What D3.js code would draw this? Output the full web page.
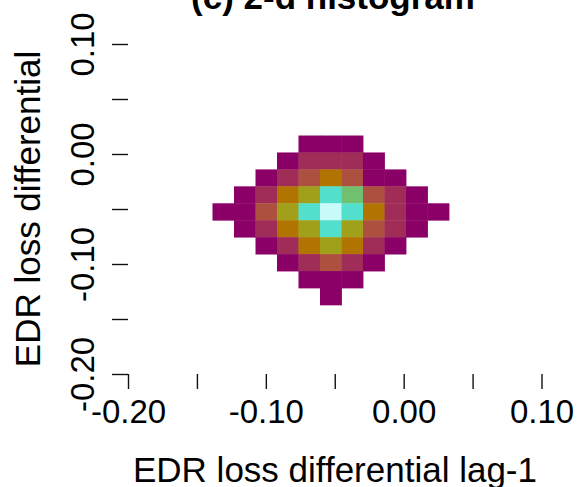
<!DOCTYPE html>
<html>
<head>
<meta charset="utf-8">
<script src="https://cdn.jsdelivr.net/npm/d3@7"></script>
<style>
  html, body { margin: 0; padding: 0; background: #fff; }
  svg { display: block; font-family: "Liberation Sans", Arial, sans-serif; }
</style>
</head>
<body>
<svg id="chart" width="578" height="487"></svg>
<script>
// Bin edges of the 2-d histogram (lag-1 value on x, current value on y)
const xBreaks = [-0.1387, -0.1231, -0.1075, -0.0919, -0.0763, -0.0607,
                 -0.0451, -0.0295, -0.0139, 0.0017, 0.0173, 0.0329];
const yBreaks = [0.0168, 0.0014, -0.0140, -0.0294, -0.0448, -0.0602,
                 -0.0756, -0.0910, -0.1064, -0.1218, -0.1372];

// Density class of each bin, rows from top (highest y) to bottom; 0 = empty
const densityRows = [
  [0, 0, 0, 0, 1, 1, 1, 0, 0, 0, 0],
  [0, 0, 0, 1, 2, 2, 2, 1, 0, 0, 0],
  [0, 0, 1, 2, 3, 4, 3, 1, 1, 0, 0],
  [0, 1, 2, 4, 5, 7, 6, 3, 2, 1, 0],
  [1, 1, 3, 5, 7, 8, 7, 4, 2, 1, 1],
  [0, 1, 2, 4, 5, 7, 5, 3, 2, 1, 0],
  [0, 0, 1, 2, 4, 5, 4, 2, 1, 0, 0],
  [0, 0, 0, 1, 2, 3, 2, 1, 0, 0, 0],
  [0, 0, 0, 0, 1, 1, 1, 0, 0, 0, 0],
  [0, 0, 0, 0, 0, 1, 0, 0, 0, 0, 0]
];

// Colour ramp for density classes 1..8
const densityLevels = [1, 2, 3, 4, 5, 6, 7, 8];
const densityColors = ["#8a0066", "#a02c58", "#ae5040", "#b27400",
                       "#a0a01a", "#70c070", "#52e0cc", "#c8fafa"];

const xTicks = [-0.20, -0.15, -0.10, -0.05, 0.00, 0.05, 0.10];
const xTickLabels = ["-0.20", "", "-0.10", "", "0.00", "", "0.10"];
const yTicks = [-0.20, -0.15, -0.10, -0.05, 0.00, 0.05, 0.10];
const yTickLabels = ["-0.20", "", "-0.10", "", "0.00", "", "0.10"];

const svg = d3.select("#chart");

const x = d3.scaleLinear().domain([-0.20, 0.10]).range([128, 541.5]);
const y = d3.scaleLinear().domain([-0.20, 0.10]).range([374, 44]);
const color = d3.scaleOrdinal().domain(densityLevels).range(densityColors);

// Flatten the grid into cells
const cells = [];
densityRows.forEach((row, r) => {
  row.forEach((v, c) => {
    if (v > 0) cells.push({
      x0: xBreaks[c], x1: xBreaks[c + 1],
      y0: yBreaks[r + 1], y1: yBreaks[r], v
    });
  });
});

svg.append("g").selectAll("rect").data(cells).join("rect")
  .attr("x", d => x(d.x0))
  .attr("y", d => y(d.y1))
  .attr("width", d => x(d.x1) - x(d.x0) + 0.4)
  .attr("height", d => y(d.y0) - y(d.y1) + 0.4)
  .attr("fill", d => color(d.v));

// Bottom axis: ticks only, no domain line
const xAxis = d3.axisBottom(x)
  .tickValues(xTicks)
  .tickSize(15)
  .tickPadding(9)
  .tickFormat((d, i) => xTickLabels[i]);
const gx = svg.append("g").attr("transform", "translate(0,374)").call(xAxis);
gx.select(".domain").remove();
gx.selectAll(".tick line").attr("stroke", "#111").attr("stroke-width", 1.4);
gx.selectAll(".tick text")
  .attr("font-size", 33).attr("fill", "#000")
  .attr("dy", null).attr("y", 49);

// Left axis: ticks only, labels rotated parallel to the axis
const yAxis = d3.axisLeft(y)
  .tickValues(yTicks)
  .tickSize(16)
  .tickFormat((d, i) => yTickLabels[i]);
const gy = svg.append("g").attr("transform", "translate(128,0)").call(yAxis);
gy.select(".domain").remove();
gy.selectAll(".tick line").attr("stroke", "#111").attr("stroke-width", 1.4);
gy.selectAll(".tick text")
  .attr("font-size", 33).attr("fill", "#000")
  .attr("x", null).attr("dy", null)
  .attr("text-anchor", "middle")
  .attr("transform", "translate(-34,0) rotate(-90)");

// Axis titles
svg.append("text")
  .attr("x", 335).attr("y", 482)
  .attr("text-anchor", "middle")
  .attr("font-size", 35)
  .attr("fill", "#000")
  .text("EDR loss differential lag-1");

svg.append("text")
  .attr("transform", "translate(40,209) rotate(-90)")
  .attr("text-anchor", "middle")
  .attr("font-size", 35)
  .attr("fill", "#000")
  .text("EDR loss differential");

// Panel title, partly above the visible area
svg.append("text")
  .attr("x", 333).attr("y", 9)
  .attr("text-anchor", "middle")
  .attr("font-size", 35)
  .attr("font-weight", "bold")
  .attr("fill", "#000")
  .text("(c) 2-d histogram");
</script>
</body>
</html>
